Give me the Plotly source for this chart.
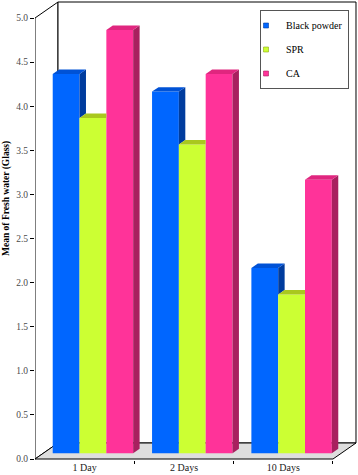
import plotly.graph_objects as go

# ---------------- data ----------------
categories = ["1 Day", "2 Days", "10 Days"]
series_names = ["Black powder", "SPR", "CA"]
black_powder = [4.3, 4.1, 2.1]
spr = [3.8, 3.5, 1.8]
ca = [4.8, 4.3, 3.1]
y_ticks = [0.0, 0.5, 1.0, 1.5, 2.0, 2.5, 3.0, 3.5, 4.0, 4.5, 5.0]
series_values = [black_powder, spr, ca]

# ---------------- style ----------------
front_colors = ["#0066ff", "#ccff33", "#ff3399"]
top_colors = ["#0052d6", "#a9c81e", "#e0267f"]
side_colors = ["#003c9e", "#8fa815", "#a8205f"]
FONT = "Liberation Serif, Times New Roman, serif"

# 3D projection helpers (axis units)
PX_X = 99.33          # px per category
PX_Y = 88.2           # px per value unit
DX = 23 / PX_X        # floor depth, x direction
DY = 16 / PX_Y        # floor depth, y direction
F = 0.36              # depth fraction of bar front face
BD = 0.28             # bar depth fraction
SX, SY = BD * DX, BD * DY
W = 0.27              # bar width
offsets = [-W, 0.0, W]

W_PX, H_PX = 358, 475
ML, MR, MT, MB = 35, 1, 1, 15
plot_w = W_PX - ML - MR
plot_h = H_PX - MT - MB
x_lo = -0.5
x_hi = x_lo + plot_w / PX_X
y_lo = -1 / PX_Y
y_hi = y_lo + plot_h / PX_Y
n_cat = len(categories)

fig = go.Figure()

# front faces as bars
for s, name in enumerate(series_names):
    xs = [i + offsets[s] + F * DX for i in range(n_cat)]
    fig.add_trace(go.Bar(
        x=xs, y=series_values[s], base=[F * DY] * n_cat, width=[W] * n_cat,
        marker=dict(color=front_colors[s], line=dict(width=0)),
        showlegend=False, hoverinfo="skip", name=name,
    ))

# top and side faces (visible parts only)
for i in range(n_cat):
    for s in range(len(series_names)):
        v = series_values[s][i]
        c = i + offsets[s] + F * DX
        x0, x1 = c - W / 2, c + W / 2
        base = F * DY
        top = v + F * DY
        nxt = series_values[s + 1][i] + F * DY if s + 1 < len(series_names) else None
        # side face
        if nxt is None:
            sx = [x1, x1 + SX, x1 + SX, x1, x1]
            sy = [base, base + SY, top + SY, top, base]
        elif nxt < top:
            sx = [x1, x1 + SX, x1 + SX, x1, x1]
            sy = [nxt, nxt + SY, top + SY, top, nxt]
        else:
            sx = None
        if sx is not None:
            fig.add_trace(go.Scatter(x=sx, y=sy, mode="lines", fill="toself",
                                     fillcolor=side_colors[s], line=dict(width=0),
                                     showlegend=False, hoverinfo="skip"))
        # top face
        if nxt is not None and nxt >= top + SY:
            tx = [x0, x1, x1, x0 + SX, x0]
            ty = [top, top, top + SY, top + SY, top]
        else:
            tx = [x0, x1, x1 + SX, x0 + SX, x0]
            ty = [top, top, top + SY, top + SY, top]
        fig.add_trace(go.Scatter(x=tx, y=ty, mode="lines", fill="toself",
                                 fillcolor=top_colors[s], line=dict(width=0),
                                 showlegend=False, hoverinfo="skip"))

# legend entries
for s, name in enumerate(series_names):
    fig.add_trace(go.Scatter(
        x=[None], y=[None], mode="markers", name=name, legendgroup=name,
        marker=dict(symbol="square", size=5, color=front_colors[s],
                    line=dict(width=0.6, color=side_colors[s])),
    ))

# walls and floor (behind bars)
def P(pts):
    return "M " + " L ".join(f"{x},{y}" for x, y in pts) + " Z"

y_top = max(y_ticks)
shapes = [
    dict(type="path", xref="x", yref="y", layer="below",
         path=P([(-0.5, 0), (-0.5 + DX, DY), (-0.5 + DX, y_top + DY), (-0.5, y_top)]),
         fillcolor="white", line=dict(color="black", width=1)),
    dict(type="rect", xref="x", yref="y", layer="below",
         x0=-0.5 + DX, y0=DY, x1=n_cat - 0.5 + DX, y1=y_top + DY,
         fillcolor="white", line=dict(color="black", width=1)),
    dict(type="path", xref="x", yref="y", layer="below",
         path=P([(-0.5, 0), (n_cat - 0.5, 0), (n_cat - 0.5 + DX, DY), (-0.5 + DX, DY)]),
         fillcolor="#dedede", line=dict(color="black", width=1)),
]

fig.update_layout(
    width=W_PX, height=H_PX,
    margin=dict(l=ML, r=MR, t=MT, b=MB, pad=0),
    paper_bgcolor="white", plot_bgcolor="white",
    barmode="overlay",
    shapes=shapes,
    font=dict(family=FONT, size=10, color="#222222"),
    xaxis=dict(range=[x_lo, x_hi], showgrid=False, zeroline=False, showline=False,
               tickmode="array", tickvals=list(range(n_cat)), ticktext=categories,
               ticks="", tickfont=dict(family=FONT, size=10, color="#222222"),
               minor=dict(tickmode="array", tickvals=[0.5, 1.5, 2.5], ticks="outside",
                          ticklen=3, tickcolor="black", showgrid=False),
               fixedrange=True),
    yaxis=dict(range=[y_lo, y_hi], showgrid=False, zeroline=False, showline=False,
               tickmode="array", tickvals=y_ticks, tickformat=".1f",
               ticks="outside", ticklen=4, tickcolor="black",
               tickfont=dict(family=FONT, size=9.5, color="#4a4a4a"),
               fixedrange=True),
    legend=dict(x=(349 - ML) / plot_w, xanchor="right",
                y=(MT + plot_h - 10) / plot_h, yanchor="top",
                bgcolor="white", bordercolor="#555555", borderwidth=1,
                font=dict(family=FONT, size=10, color="black"),
                tracegroupgap=5, itemwidth=30, indentation=-15),
    annotations=[dict(text="<b>Mean of Fresh water (Glass)</b>", textangle=-90,
                      xref="paper", yref="paper",
                      x=(6 - ML) / plot_w, y=(MT + plot_h - 199) / plot_h,
                      xanchor="center", yanchor="middle", showarrow=False,
                      font=dict(family=FONT, size=9.5, color="black"))],
)

fig.write_html("out.html", config={"displayModeBar": False},
               post_script="document.body.style.margin='0';document.body.style.overflow='hidden';")
